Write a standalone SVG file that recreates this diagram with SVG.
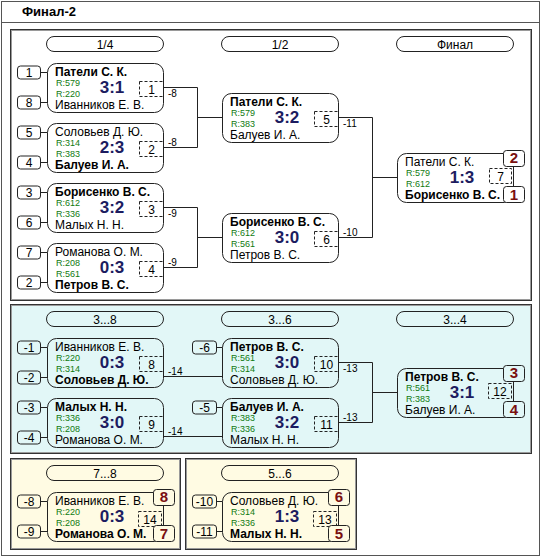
<svg xmlns="http://www.w3.org/2000/svg" width="542" height="558" viewBox="0 0 542 558">
<style>
text{font-family:"Liberation Sans",Arial,sans-serif;fill:#000}
.t{font-size:13px;font-weight:bold}
.n{font-size:12px}
.nb{font-size:12px;font-weight:bold}
.r{font-size:9px;fill:#107a10}
.sc{font-size:17px;font-weight:bold;fill:#1c1c60;text-anchor:middle}
.num{font-size:12px;text-anchor:middle}
.lb{font-size:10px}
.pl{font-size:15px;font-weight:bold;fill:#7a1010;text-anchor:middle}
.hd{font-size:12px;text-anchor:middle}
.box{fill:none;stroke:#222;stroke-width:1}
.pill{fill:none;stroke:#222;stroke-width:1}
.seed{fill:none;stroke:#222;stroke-width:1}
.dash{fill:none;stroke:#222;stroke-width:1;stroke-dasharray:3 2}
.plb{stroke:#222;stroke-width:1}
.con{fill:none;stroke:#222;stroke-width:1}
.sec{stroke:#333;stroke-width:1}
.sin{fill:none;stroke:#9a9a9a;stroke-width:1}
</style>
<g id="frame">
<rect x="1.5" y="1.5" width="538" height="554" fill="#fff" stroke="#555"/>
<line x1="1.5" y1="22.5" x2="539.5" y2="22.5" stroke="#555"/>
<text class="t" x="22" y="16">Финал-2</text>
</g>
<g id="sections">
<rect class="sec" x="10.5" y="29.5" width="521" height="271" fill="#fff"/>
<rect class="sin" x="11.5" y="30.5" width="519" height="269"/>
<rect class="sec" x="10.5" y="304.5" width="521" height="149" fill="#e2f7f7"/>
<rect class="sin" x="11.5" y="305.5" width="519" height="147"/>
<rect class="sec" x="10.5" y="458.5" width="170" height="91" fill="#fffbe3"/>
<rect class="sin" x="11.5" y="459.5" width="168" height="89"/>
<rect class="sec" x="185.5" y="458.5" width="171" height="91" fill="#fffbe3"/>
<rect class="sin" x="186.5" y="459.5" width="169" height="89"/>
</g>
<g id="headers">
<rect class="pill" x="46.5" y="36.5" width="117" height="15" rx="7.5"/><text class="hd" x="105" y="48.5">1/4</text>
<rect class="pill" x="221.5" y="36.5" width="117" height="15" rx="7.5"/><text class="hd" x="280" y="48.5">1/2</text>
<rect class="pill" x="396.5" y="36.5" width="117" height="15" rx="7.5"/><text class="hd" x="455" y="48.5">Финал</text>
<rect class="pill" x="46.5" y="311.5" width="117" height="15" rx="7.5"/><text class="hd" x="105" y="323.5">3...8</text>
<rect class="pill" x="221.5" y="311.5" width="117" height="15" rx="7.5"/><text class="hd" x="280" y="323.5">3...6</text>
<rect class="pill" x="396.5" y="311.5" width="117" height="15" rx="7.5"/><text class="hd" x="455" y="323.5">3...4</text>
<rect class="pill" x="46.5" y="465.5" width="117" height="15" rx="7.5"/><text class="hd" x="105" y="477.5">7...8</text>
<rect class="pill" x="221.5" y="465.5" width="117" height="15" rx="7.5"/><text class="hd" x="280" y="477.5">5...6</text>
</g>
<g id="connectors">
<path class="con" d="M163.5 87.5H197.5V147.5H163.5M197.5 117.5H222.5"/>
<path class="con" d="M163.5 207.5H197.5V267.5H163.5M197.5 237.5H222.5"/>
<path class="con" d="M338.5 117.5H372.5V237.5H338.5M372.5 177.5H397.5"/>
<path class="con" d="M163.5 376.5H222.5M163.5 436.5H222.5"/>
<path class="con" d="M338.5 362.5H372.5V422.5H338.5M372.5 392.5H397.5"/>
<path class="con" d="M40.5 72.5H47.5M40.5 102.5H47.5M40.5 132.5H47.5M40.5 162.5H47.5M40.5 192.5H47.5M40.5 222.5H47.5M40.5 252.5H47.5M40.5 282.5H47.5"/>
<path class="con" d="M40.5 347.5H47.5M40.5 377.5H47.5M40.5 407.5H47.5M40.5 437.5H47.5M216.5 347.5H222.5M216.5 407.5H222.5"/>
<path class="con" d="M40.5 501.5H47.5M40.5 531.5H47.5M216.5 501.5H222.5M216.5 531.5H222.5"/>
<text class="lb" x="168" y="96.5">-8</text>
<text class="lb" x="168" y="145.5">-8</text>
<text class="lb" x="168" y="216.5">-9</text>
<text class="lb" x="168" y="265.5">-9</text>
<text class="lb" x="343" y="126.5">-11</text>
<text class="lb" x="343" y="235.5">-10</text>
<text class="lb" x="168" y="374.5">-14</text>
<text class="lb" x="168" y="434.5">-14</text>
<text class="lb" x="343" y="371.5">-13</text>
<text class="lb" x="343" y="420.5">-13</text>
</g>
<g id="seeds">
<rect class="seed" x="17.5" y="66" width="23" height="13" rx="3"/><text class="num" x="29" y="76.5">1</text>
<rect class="seed" x="17.5" y="96" width="23" height="13" rx="3"/><text class="num" x="29" y="106.5">8</text>
<rect class="seed" x="17.5" y="126" width="23" height="13" rx="3"/><text class="num" x="29" y="136.5">5</text>
<rect class="seed" x="17.5" y="156" width="23" height="13" rx="3"/><text class="num" x="29" y="166.5">4</text>
<rect class="seed" x="17.5" y="186" width="23" height="13" rx="3"/><text class="num" x="29" y="196.5">3</text>
<rect class="seed" x="17.5" y="216" width="23" height="13" rx="3"/><text class="num" x="29" y="226.5">6</text>
<rect class="seed" x="17.5" y="246" width="23" height="13" rx="3"/><text class="num" x="29" y="256.5">7</text>
<rect class="seed" x="17.5" y="276" width="23" height="13" rx="3"/><text class="num" x="29" y="286.5">2</text>
<rect class="seed" x="17.5" y="341" width="23" height="13" rx="3"/><text class="num" x="29" y="351.5">-1</text>
<rect class="seed" x="17.5" y="371" width="23" height="13" rx="3"/><text class="num" x="29" y="381.5">-2</text>
<rect class="seed" x="17.5" y="401" width="23" height="13" rx="3"/><text class="num" x="29" y="411.5">-3</text>
<rect class="seed" x="17.5" y="431" width="23" height="13" rx="3"/><text class="num" x="29" y="441.5">-4</text>
<rect class="seed" x="192.5" y="341" width="24" height="13" rx="3"/><text class="num" x="204.5" y="351.5">-6</text>
<rect class="seed" x="192.5" y="401" width="24" height="13" rx="3"/><text class="num" x="204.5" y="411.5">-5</text>
<rect class="seed" x="17.5" y="495" width="23" height="13" rx="3"/><text class="num" x="29" y="505.5">-8</text>
<rect class="seed" x="17.5" y="525" width="23" height="13" rx="3"/><text class="num" x="29" y="535.5">-9</text>
<rect class="seed" x="192.5" y="495" width="24" height="13" rx="3"/><text class="num" x="204.5" y="505.5">-10</text>
<rect class="seed" x="192.5" y="525" width="24" height="13" rx="3"/><text class="num" x="204.5" y="535.5">-11</text>
</g>
<g id="m1" transform="translate(47,63)">
<rect class="box" x="0.5" y="0.5" width="116" height="49" rx="9"/>
<text class="nb" x="8" y="12.5">Патели С. К.</text><text class="r" x="9" y="23">R:579</text><text class="r" x="9" y="33.5">R:220</text>
<text class="sc" x="65" y="30">3:1</text><text class="n" x="8" y="45.5">Иванников Е. В.</text>
<rect class="dash" x="92.5" y="18.5" width="24" height="15"/><text class="num" x="104.5" y="30.5">1</text>
</g>
<g id="m2" transform="translate(47,123)">
<rect class="box" x="0.5" y="0.5" width="116" height="49" rx="9"/>
<text class="n" x="8" y="12.5">Соловьев Д. Ю.</text><text class="r" x="9" y="23">R:314</text><text class="r" x="9" y="33.5">R:383</text>
<text class="sc" x="65" y="30">2:3</text><text class="nb" x="8" y="45.5">Балуев И. А.</text>
<rect class="dash" x="92.5" y="18.5" width="24" height="15"/><text class="num" x="104.5" y="30.5">2</text>
</g>
<g id="m3" transform="translate(47,183)">
<rect class="box" x="0.5" y="0.5" width="116" height="49" rx="9"/>
<text class="nb" x="8" y="12.5">Борисенко В. С.</text><text class="r" x="9" y="23">R:612</text><text class="r" x="9" y="33.5">R:336</text>
<text class="sc" x="65" y="30">3:2</text><text class="n" x="8" y="45.5">Малых Н. Н.</text>
<rect class="dash" x="92.5" y="18.5" width="24" height="15"/><text class="num" x="104.5" y="30.5">3</text>
</g>
<g id="m4" transform="translate(47,243)">
<rect class="box" x="0.5" y="0.5" width="116" height="49" rx="9"/>
<text class="n" x="8" y="12.5">Романова О. М.</text><text class="r" x="9" y="23">R:208</text><text class="r" x="9" y="33.5">R:561</text>
<text class="sc" x="65" y="30">0:3</text><text class="nb" x="8" y="45.5">Петров В. С.</text>
<rect class="dash" x="92.5" y="18.5" width="24" height="15"/><text class="num" x="104.5" y="30.5">4</text>
</g>
<g id="m5" transform="translate(222,93)">
<rect class="box" x="0.5" y="0.5" width="116" height="49" rx="9"/>
<text class="nb" x="8" y="12.5">Патели С. К.</text><text class="r" x="9" y="23">R:579</text><text class="r" x="9" y="33.5">R:383</text>
<text class="sc" x="65" y="30">3:2</text><text class="n" x="8" y="45.5">Балуев И. А.</text>
<rect class="dash" x="92.5" y="18.5" width="24" height="15"/><text class="num" x="104.5" y="30.5">5</text>
</g>
<g id="m6" transform="translate(222,213)">
<rect class="box" x="0.5" y="0.5" width="116" height="49" rx="9"/>
<text class="nb" x="8" y="12.5">Борисенко В. С.</text><text class="r" x="9" y="23">R:612</text><text class="r" x="9" y="33.5">R:561</text>
<text class="sc" x="65" y="30">3:0</text><text class="n" x="8" y="45.5">Петров В. С.</text>
<rect class="dash" x="92.5" y="18.5" width="24" height="15"/><text class="num" x="104.5" y="30.5">6</text>
</g>
<g id="m7" transform="translate(397,153)">
<rect class="box" x="0.5" y="0.5" width="116" height="49" rx="9"/>
<text class="n" x="8" y="12.5">Патели С. К.</text><text class="r" x="9" y="23">R:579</text><text class="r" x="9" y="33.5">R:612</text>
<text class="sc" x="65" y="30">1:3</text><text class="nb" x="8" y="45.5">Борисенко В. С.</text>
<rect class="dash" x="92.5" y="15.5" width="22" height="15"/><text class="num" x="103.5" y="27.5">7</text>
<rect class="plb" x="106.5" y="-2.5" width="21" height="16" rx="3" fill="#fff"/><text class="pl" x="117" y="10">2</text>
<rect class="plb" x="106.5" y="33.5" width="21" height="16" rx="3" fill="#fff"/><text class="pl" x="117" y="47">1</text>
</g>
<g id="m8" transform="translate(47,338)">
<rect class="box" x="0.5" y="0.5" width="116" height="49" rx="9"/>
<text class="n" x="8" y="12.5">Иванников Е. В.</text><text class="r" x="9" y="23">R:220</text><text class="r" x="9" y="33.5">R:314</text>
<text class="sc" x="65" y="30">0:3</text><text class="nb" x="8" y="45.5">Соловьев Д. Ю.</text>
<rect class="dash" x="92.5" y="18.5" width="24" height="15"/><text class="num" x="104.5" y="30.5">8</text>
</g>
<g id="m9" transform="translate(47,398)">
<rect class="box" x="0.5" y="0.5" width="116" height="49" rx="9"/>
<text class="nb" x="8" y="12.5">Малых Н. Н.</text><text class="r" x="9" y="23">R:336</text><text class="r" x="9" y="33.5">R:208</text>
<text class="sc" x="65" y="30">3:0</text><text class="n" x="8" y="45.5">Романова О. М.</text>
<rect class="dash" x="92.5" y="18.5" width="24" height="15"/><text class="num" x="104.5" y="30.5">9</text>
</g>
<g id="m10" transform="translate(222,338)">
<rect class="box" x="0.5" y="0.5" width="116" height="49" rx="9"/>
<text class="nb" x="8" y="12.5">Петров В. С.</text><text class="r" x="9" y="23">R:561</text><text class="r" x="9" y="33.5">R:314</text>
<text class="sc" x="65" y="30">3:0</text><text class="n" x="8" y="45.5">Соловьев Д. Ю.</text>
<rect class="dash" x="92.5" y="18.5" width="24" height="15"/><text class="num" x="104.5" y="30.5">10</text>
</g>
<g id="m11" transform="translate(222,398)">
<rect class="box" x="0.5" y="0.5" width="116" height="49" rx="9"/>
<text class="nb" x="8" y="12.5">Балуев И. А.</text><text class="r" x="9" y="23">R:383</text><text class="r" x="9" y="33.5">R:336</text>
<text class="sc" x="65" y="30">3:2</text><text class="n" x="8" y="45.5">Малых Н. Н.</text>
<rect class="dash" x="92.5" y="18.5" width="24" height="15"/><text class="num" x="104.5" y="30.5">11</text>
</g>
<g id="m12" transform="translate(397,368)">
<rect class="box" x="0.5" y="0.5" width="116" height="49" rx="9"/>
<text class="nb" x="8" y="12.5">Петров В. С.</text><text class="r" x="9" y="23">R:561</text><text class="r" x="9" y="33.5">R:383</text>
<text class="sc" x="65" y="30">3:1</text><text class="n" x="8" y="45.5">Балуев И. А.</text>
<rect class="dash" x="91.5" y="15.5" width="23" height="15"/><text class="num" x="103" y="27.5">12</text>
<rect class="plb" x="106.5" y="-2.5" width="21" height="16" rx="3" fill="#e2f7f7"/><text class="pl" x="117" y="10">3</text>
<rect class="plb" x="106.5" y="33.5" width="21" height="16" rx="3" fill="#e2f7f7"/><text class="pl" x="117" y="47">4</text>
</g>
<g id="m14" transform="translate(47,492)">
<rect class="box" x="0.5" y="0.5" width="116" height="49" rx="9"/>
<text class="n" x="8" y="12.5">Иванников Е. В.</text><text class="r" x="9" y="23">R:220</text><text class="r" x="9" y="33.5">R:208</text>
<text class="sc" x="65" y="30">0:3</text><text class="nb" x="8" y="45.5">Романова О. М.</text>
<rect class="dash" x="91.5" y="19.5" width="23" height="15"/><text class="num" x="103" y="31.5">14</text>
<rect class="plb" x="106.5" y="-2.5" width="21" height="16" rx="3" fill="#fffbe3"/><text class="pl" x="117" y="10">8</text>
<rect class="plb" x="106.5" y="33.5" width="21" height="16" rx="3" fill="#fffbe3"/><text class="pl" x="117" y="47">7</text>
</g>
<g id="m13" transform="translate(222,492)">
<rect class="box" x="0.5" y="0.5" width="116" height="49" rx="9"/>
<text class="n" x="8" y="12.5">Соловьев Д. Ю.</text><text class="r" x="9" y="23">R:314</text><text class="r" x="9" y="33.5">R:336</text>
<text class="sc" x="65" y="30">1:3</text><text class="nb" x="8" y="45.5">Малых Н. Н.</text>
<rect class="dash" x="91.5" y="19.5" width="23" height="15"/><text class="num" x="103" y="31.5">13</text>
<rect class="plb" x="106.5" y="-2.5" width="21" height="16" rx="3" fill="#fffbe3"/><text class="pl" x="117" y="10">6</text>
<rect class="plb" x="106.5" y="33.5" width="21" height="16" rx="3" fill="#fffbe3"/><text class="pl" x="117" y="47">5</text>
</g>
</svg>
